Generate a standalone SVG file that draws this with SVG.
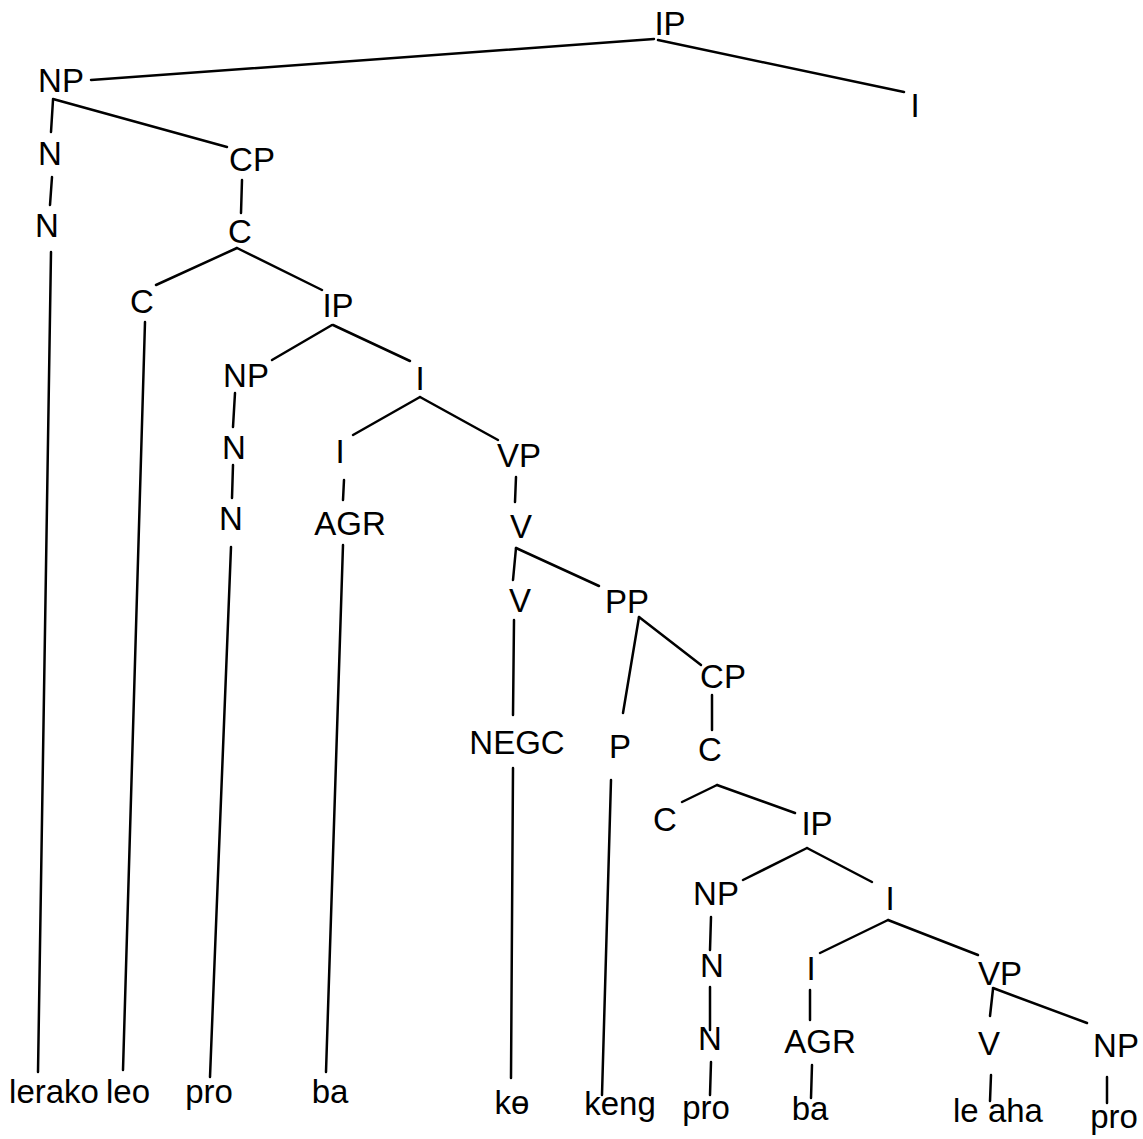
<svg xmlns="http://www.w3.org/2000/svg" width="1143" height="1139" viewBox="0 0 1143 1139">
<style>
text{font-family:"Liberation Sans",Arial,sans-serif;font-size:33px;fill:#000;text-anchor:middle}
.e{stroke:#000;stroke-width:2.5;fill:none;stroke-linecap:round}
</style>
<rect width="1143" height="1139" fill="#fff"/>
<g id="connectors" class="e">
<line x1="654" y1="39" x2="91" y2="80"/>
<line x1="658" y1="40" x2="904" y2="92"/>
<line x1="53" y1="100" x2="51" y2="132"/>
<line x1="53" y1="99" x2="227" y2="147"/>
<line x1="52" y1="177" x2="50" y2="205"/>
<line x1="51" y1="252" x2="38" y2="1072"/>
<line x1="242" y1="180" x2="241" y2="213"/>
<line x1="237" y1="248" x2="156" y2="285"/>
<line x1="237" y1="248" x2="322" y2="290"/>
<line x1="145" y1="322" x2="123" y2="1070"/>
<line x1="332" y1="325" x2="272" y2="360"/>
<line x1="333" y1="325" x2="410" y2="361"/>
<line x1="235" y1="393" x2="233" y2="427"/>
<line x1="233" y1="465" x2="232" y2="498"/>
<line x1="231" y1="547" x2="210" y2="1077"/>
<line x1="420" y1="397" x2="353" y2="435"/>
<line x1="420" y1="397" x2="498" y2="440"/>
<line x1="344" y1="480" x2="343" y2="500"/>
<line x1="343" y1="545" x2="326" y2="1072"/>
<line x1="516" y1="477" x2="515" y2="502"/>
<line x1="516" y1="548" x2="513" y2="580"/>
<line x1="516" y1="548" x2="599" y2="586"/>
<line x1="514" y1="620" x2="513" y2="715"/>
<line x1="513" y1="768" x2="511" y2="1078"/>
<line x1="639" y1="617" x2="623" y2="713"/>
<line x1="639" y1="617" x2="701" y2="665"/>
<line x1="611" y1="780" x2="602" y2="1095"/>
<line x1="712" y1="695" x2="712" y2="730"/>
<line x1="717" y1="785" x2="682" y2="802"/>
<line x1="717" y1="785" x2="795" y2="813"/>
<line x1="807" y1="848" x2="743" y2="880"/>
<line x1="807" y1="848" x2="872" y2="882"/>
<line x1="711" y1="917" x2="710" y2="950"/>
<line x1="710" y1="987" x2="710" y2="1030"/>
<line x1="711" y1="1062" x2="710" y2="1095"/>
<line x1="888" y1="920" x2="820" y2="953"/>
<line x1="888" y1="920" x2="978" y2="955"/>
<line x1="810" y1="990" x2="810" y2="1020"/>
<line x1="812" y1="1065" x2="811" y2="1098"/>
<line x1="993" y1="989" x2="990" y2="1016"/>
<line x1="993" y1="988" x2="1087" y2="1023"/>
<line x1="991" y1="1075" x2="990" y2="1101"/>
<line x1="1107" y1="1077" x2="1107" y2="1103"/>
</g>
<g id="n-IP1"><text x="670" y="35">IP</text></g>
<g id="n-I1"><text x="915" y="117">I</text></g>
<g id="n-NP1"><text x="61" y="92">NP</text></g>
<g id="n-N1"><text x="50" y="165">N</text></g>
<g id="n-N2"><text x="47" y="237">N</text></g>
<g id="n-CP1"><text x="252" y="171">CP</text></g>
<g id="n-C1"><text x="240" y="243">C</text></g>
<g id="n-C2"><text x="142" y="313">C</text></g>
<g id="n-IP2"><text x="338" y="317">IP</text></g>
<g id="n-NP2"><text x="246" y="387">NP</text></g>
<g id="n-N3"><text x="234" y="459">N</text></g>
<g id="n-N4"><text x="231" y="530">N</text></g>
<g id="n-I2"><text x="420" y="390">I</text></g>
<g id="n-I3"><text x="340" y="463">I</text></g>
<g id="n-AGR1"><text x="350" y="535">AGR</text></g>
<g id="n-VP1"><text x="519" y="467">VP</text></g>
<g id="n-V1"><text x="521" y="538">V</text></g>
<g id="n-V2"><text x="520" y="612">V</text></g>
<g id="n-PP"><text x="627" y="613">PP</text></g>
<g id="n-NEGC"><text x="517" y="754">NEGC</text></g>
<g id="n-P"><text x="620" y="758">P</text></g>
<g id="n-CP2"><text x="723" y="688">CP</text></g>
<g id="n-C3"><text x="710" y="761">C</text></g>
<g id="n-C4"><text x="665" y="831">C</text></g>
<g id="n-IP3"><text x="817" y="835">IP</text></g>
<g id="n-NP3"><text x="716" y="905">NP</text></g>
<g id="n-N5"><text x="712" y="977">N</text></g>
<g id="n-N6"><text x="710" y="1050">N</text></g>
<g id="n-I4"><text x="890" y="910">I</text></g>
<g id="n-I5"><text x="811" y="980">I</text></g>
<g id="n-AGR2"><text x="820" y="1053">AGR</text></g>
<g id="n-VP2"><text x="1000" y="985">VP</text></g>
<g id="n-V3"><text x="989" y="1055">V</text></g>
<g id="n-NP4"><text x="1116" y="1057">NP</text></g>
<g id="w-lerako"><text x="54" y="1103">lerako</text></g>
<g id="w-leo"><text x="128" y="1103">leo</text></g>
<g id="w-pro1"><text x="209" y="1103">pro</text></g>
<g id="w-ba1"><text x="330" y="1103">ba</text></g>
<g id="w-ke"><text x="512" y="1114">kɵ</text></g>
<g id="w-keng"><text x="620" y="1115">keng</text></g>
<g id="w-pro2"><text x="706" y="1119">pro</text></g>
<g id="w-ba2"><text x="810" y="1120">ba</text></g>
<g id="w-leaha"><text x="998" y="1122">le aha</text></g>
<g id="w-pro3"><text x="1114" y="1128">pro</text></g>
</svg>
